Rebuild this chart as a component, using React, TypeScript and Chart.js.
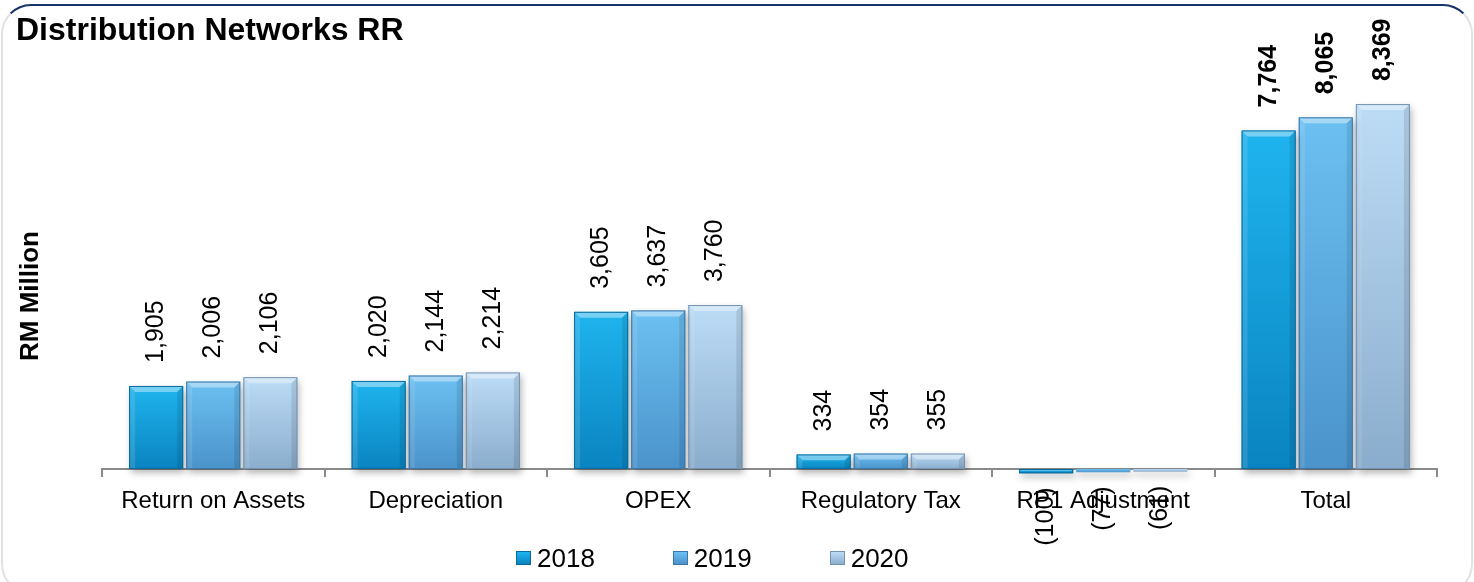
import { useEffect, useRef } from 'react';
import { Chart, registerables } from 'chart.js';

Chart.register(...registerables);

const CATEGORIES = ['Return on Assets', 'Depreciation', 'OPEX', 'Regulatory Tax', 'RP1 Adjustment', 'Total'];
const SERIES = ['2018', '2019', '2020'];
const VALUES_2018 = [1905, 2020, 3605, 334, -100, 7764];
const VALUES_2019 = [2006, 2144, 3637, 354, -77, 8065];
const VALUES_2020 = [2106, 2214, 3760, 355, -61, 8369];
const TITLE = 'Distribution Networks RR';
const Y_TITLE = 'RM Million';
const BOLD_CATEGORY = 'Total';
const Y_MAX = 9600;

const FONT = "'Liberation Sans', Arial, Helvetica, sans-serif";

const PALETTE = [
  { top: '#1fb4ee', bottom: '#0a84c0', edge: '#08699c' },
  { top: '#6cc0f2', bottom: '#4a93cb', edge: '#3a76a8' },
  { top: '#bcdcf6', bottom: '#8badcd', edge: '#7292b2' },
];

const fmt = (v: number) =>
  v < 0 ? `(${Math.abs(v).toLocaleString('en-US')})` : v.toLocaleString('en-US');

const decorPlugin = {
  id: 'decor',
  beforeDatasetsDraw(chart: any) {
    const ctx = chart.ctx;
    ctx.save();
    ctx.shadowColor = 'rgba(0,0,0,0.3)';
    ctx.shadowBlur = 7;
    ctx.shadowOffsetX = 2;
    ctx.shadowOffsetY = 4;
  },
  afterDatasetsDraw(chart: any) {
    const ctx = chart.ctx;
    ctx.restore();
    chart.data.datasets.forEach((ds: any, di: number) => {
      const meta = chart.getDatasetMeta(di);
      const pal = PALETTE[di];
      meta.data.forEach((el: any, i: number) => {
        const { x, y, base, width } = el.getProps(['x', 'y', 'base', 'width'], true);
        const left = x - width / 2;
        const right = x + width / 2;
        const top = Math.min(y, base);
        const bottom = Math.max(y, base);
        const h = bottom - top;
        if (h >= 4) {
          const b = Math.min(6, h / 2.5);
          ctx.save();
          ctx.fillStyle = 'rgba(255,255,255,0.4)';
          ctx.beginPath();
          ctx.moveTo(left, top);
          ctx.lineTo(right, top);
          ctx.lineTo(right - b, top + b);
          ctx.lineTo(left + b, top + b);
          ctx.closePath();
          ctx.fill();
          ctx.fillStyle = 'rgba(255,255,255,0.12)';
          ctx.beginPath();
          ctx.moveTo(left, top);
          ctx.lineTo(left + b, top + b);
          ctx.lineTo(left + b, bottom);
          ctx.lineTo(left, bottom);
          ctx.closePath();
          ctx.fill();
          ctx.fillStyle = 'rgba(0,0,0,0.10)';
          ctx.beginPath();
          ctx.moveTo(right, top);
          ctx.lineTo(right - b, top + b);
          ctx.lineTo(right - b, bottom);
          ctx.lineTo(right, bottom);
          ctx.closePath();
          ctx.fill();
          ctx.strokeStyle = pal.edge;
          ctx.lineWidth = 1;
          ctx.strokeRect(left + 0.5, top + 0.5, width - 1, h - 1);
          ctx.restore();
        }
        const v = ds.data[i] as number;
        const bold = CATEGORIES[i] === BOLD_CATEGORY;
        ctx.save();
        ctx.font = `${bold ? 'bold ' : ''}25px ${FONT}`;
        ctx.fillStyle = '#000';
        ctx.textBaseline = 'middle';
        if (v >= 0) {
          ctx.translate(x, y - 23);
          ctx.rotate(-Math.PI / 2);
          ctx.textAlign = 'left';
        } else {
          ctx.translate(x, y + 14);
          ctx.rotate(-Math.PI / 2);
          ctx.textAlign = 'right';
        }
        ctx.fillText(fmt(v), 0, 0);
        ctx.restore();
      });
    });
  },
  afterDraw(chart: any) {
    const ctx = chart.ctx;
    ctx.save();
    ctx.translate(31, 296);
    ctx.rotate(-Math.PI / 2);
    ctx.font = `bold 26px ${FONT}`;
    ctx.fillStyle = '#000';
    ctx.textAlign = 'center';
    ctx.textBaseline = 'middle';
    ctx.fillText(Y_TITLE, 0, 0);
    ctx.restore();
  },
};

function barGradient(idx: number) {
  return (context: any) => {
    const chart = context.chart;
    const pal = PALETTE[idx];
    const yScale = chart.scales?.y;
    if (!chart.chartArea || !yScale || context.type !== 'data') return pal.bottom;
    const v = context.raw as number;
    const p1 = yScale.getPixelForValue(v);
    const p0 = yScale.getPixelForValue(0);
    if (Math.abs(p1 - p0) < 1) return pal.bottom;
    const g = chart.ctx.createLinearGradient(0, Math.min(p0, p1), 0, Math.max(p0, p1));
    g.addColorStop(0, pal.top);
    g.addColorStop(1, pal.bottom);
    return g;
  };
}

export default function App() {
  const ref = useRef<HTMLCanvasElement | null>(null);

  useEffect(() => {
    if (!ref.current) return;
    const seriesValues = [VALUES_2018, VALUES_2019, VALUES_2020];
    const chart = new Chart(ref.current, {
      type: 'bar',
      data: {
        labels: CATEGORIES,
        datasets: SERIES.map((s, i) => ({
          label: s,
          data: seriesValues[i],
          backgroundColor: barGradient(i),
          borderWidth: 0,
          categoryPercentage: 0.77,
          barPercentage: 0.947,
          clip: false as any,
        })),
      },
      options: {
        responsive: false,
        animation: false,
        layout: { padding: { left: 16, right: 37, top: 0, bottom: 53 } },
        plugins: {
          legend: { display: false },
          tooltip: { enabled: false },
          title: {
            display: true,
            text: TITLE,
            align: 'start',
            color: '#000',
            font: { family: FONT, size: 32, weight: 'bold' },
            padding: { top: 12, bottom: 0 },
          },
        },
        scales: {
          x: {
            grid: {
              display: true,
              offset: true,
              drawOnChartArea: false,
              drawTicks: true,
              tickLength: 8,
              color: '#8a8a8a',
              lineWidth: 2,
            },
            border: { display: true, color: '#8a8a8a', width: 2 },
            ticks: {
              color: '#000',
              font: { family: FONT, size: 24 },
              padding: 10,
              maxRotation: 0,
              autoSkip: false,
            },
            afterFit: (s: any) => {
              s.height = 60;
            },
          },
          y: {
            min: 0,
            max: Y_MAX,
            grid: { display: false },
            border: { display: false },
            ticks: { display: false },
            afterFit: (s: any) => {
              s.width = 86;
            },
          },
        },
      },
      plugins: [decorPlugin],
    } as any);
    return () => chart.destroy();
  }, []);

  return (
    <div
      style={{
        position: 'fixed',
        left: 0,
        top: 0,
        width: 1474,
        height: 582,
        background: '#fff',
        overflow: 'hidden',
        fontFamily: FONT,
      }}
    >
      <div
        style={{
          position: 'absolute',
          left: 1,
          top: 4,
          width: 1472,
          height: 590,
          boxSizing: 'border-box',
          border: '2px solid #e2e2e2',
          borderTopColor: '#17336b',
          borderBottomColor: '#17336b',
          borderRadius: 30,
        }}
      />
      <canvas ref={ref} width={1474} height={582} style={{ position: 'absolute', left: 0, top: 0 }} />
      <div
        style={{
          position: 'absolute',
          top: 543,
          left: 516,
          display: 'flex',
          alignItems: 'center',
          gap: 78,
          fontSize: 26,
          lineHeight: '30px',
          color: '#000',
        }}
      >
        {SERIES.map((s, i) => (
          <div key={s} style={{ display: 'flex', alignItems: 'center' }}>
            <span
              style={{
                display: 'inline-block',
                width: 13,
                height: 12,
                marginRight: 6,
                background: `linear-gradient(to bottom, ${PALETTE[i].top}, ${PALETTE[i].bottom})`,
                border: `1px solid ${PALETTE[i].edge}`,
              }}
            />
            <span>{s}</span>
          </div>
        ))}
      </div>
    </div>
  );
}
